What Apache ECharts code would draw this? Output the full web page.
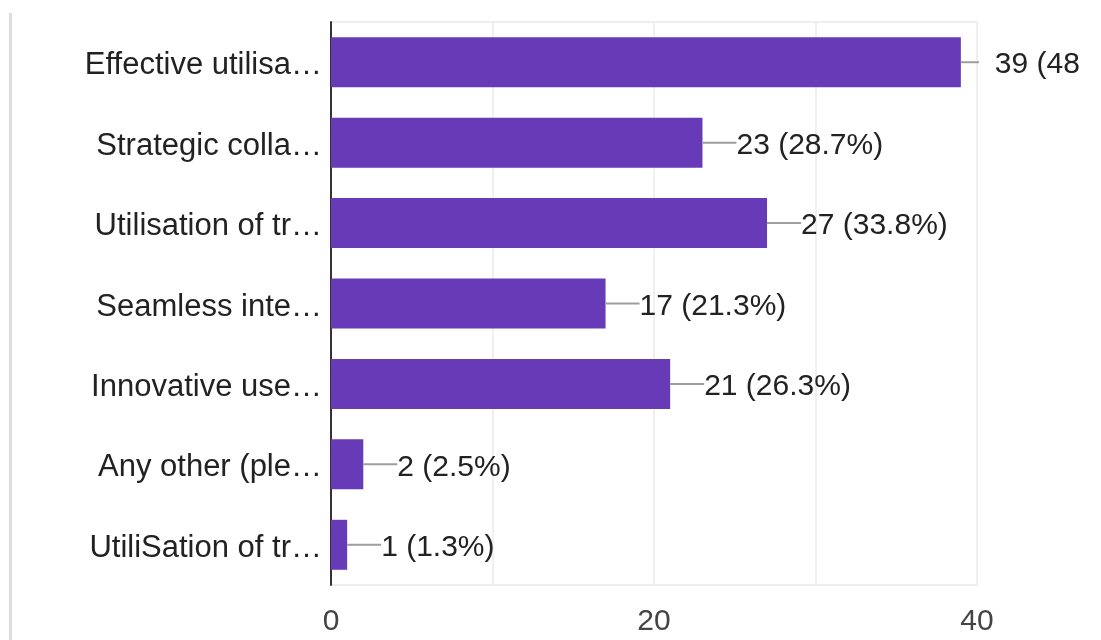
<!DOCTYPE html>
<html>
<head>
<meta charset="utf-8">
<title>Responses</title>
<script src="https://cdn.jsdelivr.net/npm/echarts@6/dist/echarts.min.js"></script>
<style>
  html, body { margin: 0; padding: 0; background: #fff; }
  #frame { position: relative; width: 1080px; height: 640px; overflow: hidden; }
  #edge { position: absolute; left: 9px; top: 13px; width: 3px; height: 627px; background: #dadce0; }
  #chart { position: absolute; left: 0; top: 0; width: 1101px; height: 640px; }
</style>
</head>
<body>
<div id="frame">
  <div id="edge"></div>
  <div id="chart"></div>
</div>
<script>
// Answer options (labels shortened as shown on the axis)
const categories = [
  'Effective utilisa…',
  'Strategic colla…',
  'Utilisation of tr…',
  'Seamless inte…',
  'Innovative use…',
  'Any other (ple…',
  'UtiliSation of tr…'
];
// Number of respondents per option
const counts = [39, 23, 27, 17, 21, 2, 1];
// Share of respondents, as printed next to each bar
const percents = ['48.8', '28.7', '33.8', '21.3', '26.3', '2.5', '1.3'];
// Value axis ticks
const axisMax = 40;
const labelledTicks = [0, 20, 40];

const FONT = "'Liberation Sans', Arial, Helvetica, sans-serif";
const STEM = 34;

const chart = echarts.init(document.getElementById('chart'), null, { renderer: 'canvas' });

chart.setOption({
  animation: false,
  textStyle: { fontFamily: FONT },
  grid: {
    left: 331, right: 124, top: 22, bottom: 55,
    show: true, borderColor: '#eeeeee', borderWidth: 2,
    containLabel: false
  },
  xAxis: {
    type: 'value',
    min: 0, max: axisMax, interval: 10,
    axisLine: { show: false },
    axisTick: { show: false },
    splitLine: { show: true, lineStyle: { color: '#f0f0f0', width: 2 } },
    axisLabel: {
      margin: 22,
      fontSize: 30,
      color: '#444',
      fontFamily: FONT,
      formatter: v => labelledTicks.includes(v) ? String(v) : ''
    }
  },
  yAxis: {
    type: 'category',
    inverse: true,
    data: categories,
    axisLine: { show: true, lineStyle: { color: '#333', width: 2 } },
    axisTick: { show: false },
    axisLabel: {
      interval: 0,
      margin: 9, fontSize: 31, color: '#222', fontFamily: FONT,
      verticalAlign: 'top',
      lineHeight: 7
    }
  },
  series: [
    {
      type: 'bar',
      data: counts,
      barWidth: 50,
      itemStyle: { color: '#673ab7' },
      label: {
        show: true,
        position: 'right',
        distance: STEM,
        offset: [0, 3],
        fontSize: 30,
        color: '#222',
        fontFamily: FONT,
        formatter: p => `${p.value} (${percents[p.dataIndex]}%)`
      }
    },
    {
      // leader stems joining each bar to its value label
      type: 'custom',
      data: counts.map((v, i) => [v, i]),
      encode: { x: 0, y: 1 },
      z: 3,
      renderItem: (params, api) => {
        const p = api.coord([api.value(0), api.value(1)]);
        const cs = params.coordSys;
        const end = Math.min(p[0] + STEM, cs.x + cs.width + 2);
        return {
          type: 'line',
          shape: { x1: p[0], y1: p[1], x2: end, y2: p[1] },
          style: { stroke: '#9e9e9e', lineWidth: 2 }
        };
      }
    }
  ]
});
</script>
</body>
</html>
